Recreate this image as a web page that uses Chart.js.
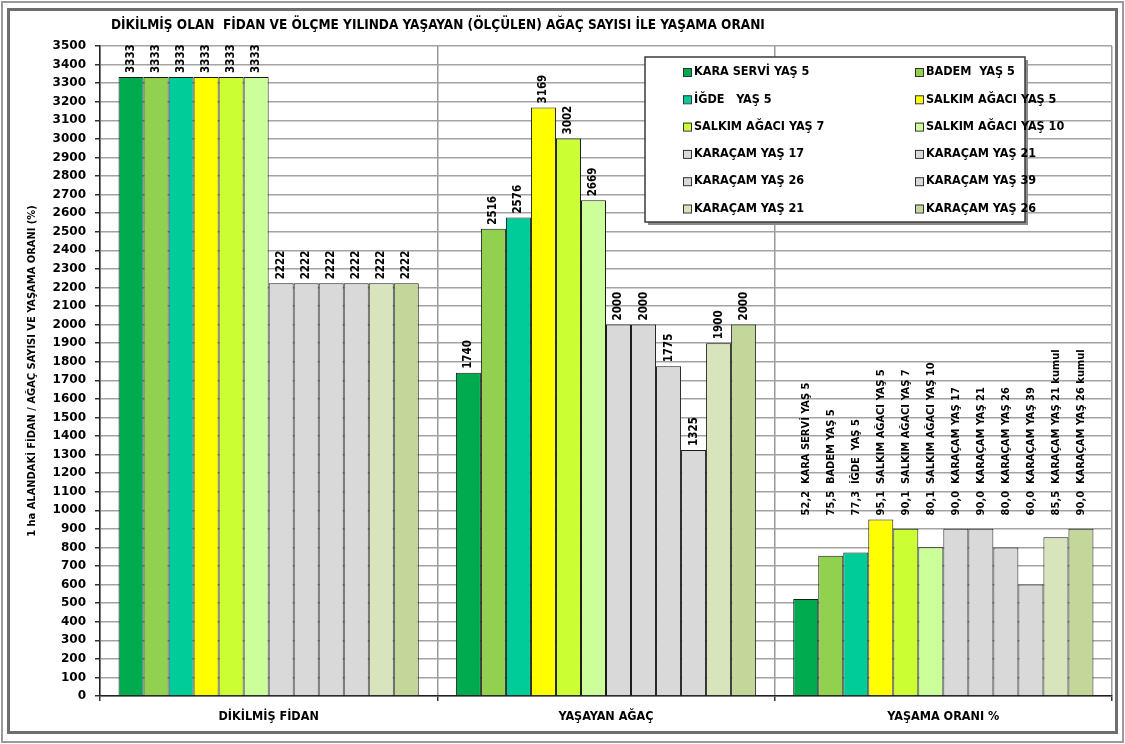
<!DOCTYPE html>
<html>
<head>
<meta charset="utf-8">
<script src="https://cdn.jsdelivr.net/npm/chart.js@4.4.1/dist/chart.umd.min.js"></script>
<style>
  html, body { margin: 0; padding: 0; background: #fff; }
  #wrap { width: 1125px; height: 744px; position: relative; }
  canvas { display: block; }
</style>
</head>
<body>
<div id="wrap"><canvas id="c" width="1125" height="744"></canvas></div>
<script>
// Category groups along the x axis
const categories = ['DİKİLMİŞ FİDAN', 'YAŞAYAN AĞAÇ', 'YAŞAMA ORANI %'];

// One bar series per species / age
const seriesNames = [
  'KARA SERVİ YAŞ 5', 'BADEM  YAŞ 5', 'İĞDE   YAŞ 5', 'SALKIM AĞACI YAŞ 5',
  'SALKIM AĞACI YAŞ 7', 'SALKIM AĞACI YAŞ 10', 'KARAÇAM YAŞ 17', 'KARAÇAM YAŞ 21',
  'KARAÇAM YAŞ 26', 'KARAÇAM YAŞ 39', 'KARAÇAM YAŞ 21', 'KARAÇAM YAŞ 26'
];

// Seedlings planted per hectare
const planted = [3333, 3333, 3333, 3333, 3333, 3333, 2222, 2222, 2222, 2222, 2222, 2222];

// Trees alive (measured) per hectare
const surviving = [1740, 2516, 2576, 3169, 3002, 2669, 2000, 2000, 1775, 1325, 1900, 2000];

// Survival rate, percent
const survivalRate = [52.2, 75.5, 77.3, 95.1, 90.1, 80.1, 90.0, 90.0, 80.0, 60.0, 85.5, 90.0];

// Text that follows each survival rate label
const rateNotes = [
  'KARA SERVİ YAŞ 5', 'BADEM YAŞ 5', 'İĞDE  YAŞ 5', 'SALKIM AĞACI YAŞ 5',
  'SALKIM AĞACI YAŞ 7', 'SALKIM AĞACI YAŞ 10', 'KARAÇAM YAŞ 17', 'KARAÇAM YAŞ 21',
  'KARAÇAM YAŞ 26', 'KARAÇAM YAŞ 39', 'KARAÇAM YAŞ 21 kumul', 'KARAÇAM YAŞ 26 kumul'
];

const seriesColors = [
  '#00AA4F', '#92D050', '#00CC99', '#FFFF00', '#CCFF33', '#CCFF99',
  '#D9D9D9', '#D9D9D9', '#D9D9D9', '#D9D9D9', '#D8E4BC', '#C4D79B'
];

// Value axis: 0 .. 3500 in steps of 100
const yMin = 0, yMax = 3500, yStep = 100;

const chartTitle = 'DİKİLMİŞ OLAN  FİDAN VE ÖLÇME YILINDA YAŞAYAN (ÖLÇÜLEN) AĞAÇ SAYISI İLE YAŞAMA ORANI';
const yTitle = '1 ha ALANDAKİ FİDAN / AĞAÇ SAYISI VE YAŞAMA ORANI (%)';

const FONT = "'DejaVu Sans Condensed', 'DejaVu Sans', sans-serif";

// Rate bars share the count axis, so a percent is drawn at ten times its value
const datasets = seriesNames.map((name, i) => ({
  label: name,
  data: [planted[i], surviving[i], survivalRate[i] * 10],
  backgroundColor: seriesColors[i],
  borderColor: '#1a1a1a',
  borderWidth: 1,
  barPercentage: 1.0,
  categoryPercentage: 0.89
}));

// Outer double frame, white background and the heading
const framePlugin = {
  id: 'frame',
  beforeDraw(chart) {
    const ctx = chart.ctx;
    ctx.save();
    ctx.fillStyle = '#fff';
    ctx.fillRect(0, 0, chart.width, chart.height);
    ctx.strokeStyle = '#9a9a9a';
    ctx.lineWidth = 2;
    ctx.strokeRect(2, 2, chart.width - 4, chart.height - 4);
    ctx.strokeStyle = '#6e6e6e';
    ctx.lineWidth = 3;
    ctx.strokeRect(8.5, 9.5, chart.width - 17, chart.height - 21);
    ctx.restore();
  },
  afterDraw(chart) {
    const ctx = chart.ctx;
    ctx.save();
    ctx.fillStyle = '#000';
    ctx.font = "bold 13.5px " + FONT;
    ctx.textBaseline = 'middle';
    ctx.textAlign = 'left';
    ctx.fillText(chartTitle, 111, 25);
    ctx.restore();
  }
};

// Rotated value labels above the bars
const labelPlugin = {
  id: 'barLabels',
  afterDatasetsDraw(chart) {
    const ctx = chart.ctx;
    const yScale = chart.scales.y;
    const rateBase = yScale.getPixelForValue(Math.max(...survivalRate) * 10) - 4;
    ctx.save();
    ctx.fillStyle = '#000';
    ctx.textBaseline = 'middle';
    ctx.textAlign = 'left';
    chart.data.datasets.forEach((ds, i) => {
      const meta = chart.getDatasetMeta(i);
      meta.data.forEach((bar, j) => {
        let text, y;
        if (j < 2) {
          ctx.font = "bold 11.5px " + FONT;
          text = String(ds.data[j]);
          y = bar.y - 4;
        } else {
          ctx.font = "bold 11px " + FONT;
          text = survivalRate[i].toFixed(1).replace('.', ',') + '  ' + rateNotes[i];
          y = rateBase;
        }
        ctx.save();
        ctx.translate(bar.x, y);
        ctx.rotate(-Math.PI / 2);
        ctx.fillText(text, 0, 0);
        ctx.restore();
      });
    });
    ctx.restore();
  }
};

// Boxed legend in two columns inside the plot
const legendPlugin = {
  id: 'boxLegend',
  afterDraw(chart) {
    const ctx = chart.ctx;
    const box = { x: 645, y: 57, w: 380, h: 165 };
    ctx.save();
    ctx.fillStyle = '#8c8c8c';
    ctx.fillRect(box.x + 3, box.y + 3, box.w, box.h);
    ctx.fillStyle = '#fff';
    ctx.fillRect(box.x, box.y, box.w, box.h);
    ctx.strokeStyle = '#3a3a3a';
    ctx.lineWidth = 1.5;
    ctx.strokeRect(box.x, box.y, box.w, box.h);
    ctx.font = "bold 12.5px " + FONT;
    ctx.textBaseline = 'middle';
    ctx.textAlign = 'left';
    const rowH = 27.3;
    chart.data.datasets.forEach((ds, i) => {
      const col = i % 2, row = Math.floor(i / 2);
      const mx = box.x + 38 + col * 232;
      const my = box.y + 15 + row * rowH;
      ctx.fillStyle = ds.backgroundColor;
      ctx.fillRect(mx, my - 4, 8, 8);
      ctx.strokeStyle = '#333';
      ctx.lineWidth = 1;
      ctx.strokeRect(mx + 0.5, my - 3.5, 8, 8);
      ctx.fillStyle = '#000';
      ctx.fillText(ds.label, mx + 11, my);
    });
    ctx.restore();
  }
};

const PAD = { left: 26, right: 13, top: 46, bottom: 14 };

new Chart(document.getElementById('c'), {
  type: 'bar',
  data: { labels: categories, datasets },
  options: {
    responsive: false,
    animation: false,
    layout: { padding: PAD },
    plugins: {
      legend: { display: false },
      title: { display: false },
      tooltip: { enabled: false }
    },
    scales: {
      x: {
        grid: {
          offset: true,
          color: '#9a9a9a',
          lineWidth: 1.5,
          tickLength: 5,
          tickColor: '#333'
        },
        border: { color: '#222', width: 1.5 },
        ticks: {
          color: '#000',
          font: { family: FONT, weight: 'bold', size: 12.5 },
          padding: 8
        },
        afterFit(scale) { scale.height = 744 - 696 - PAD.bottom; }
      },
      y: {
        min: yMin,
        max: yMax,
        ticks: {
          stepSize: yStep,
          autoSkip: false,
          color: '#000',
          font: { family: "'DejaVu Sans', sans-serif", weight: 'bold', size: 12 },
          padding: 9,
          callback: (v) => String(v)
        },
        grid: {
          color: '#a3a3a3',
          lineWidth: 1.5,
          tickLength: 5,
          tickColor: '#333'
        },
        border: { color: '#222', width: 1.5 },
        title: {
          display: true,
          text: yTitle,
          color: '#000',
          font: { family: FONT, weight: 'bold', size: 11 },
          padding: 0
        },
        afterFit(scale) { scale.width = 100 - PAD.left; }
      }
    }
  },
  plugins: [framePlugin, labelPlugin, legendPlugin]
});
</script>
</body>
</html>
